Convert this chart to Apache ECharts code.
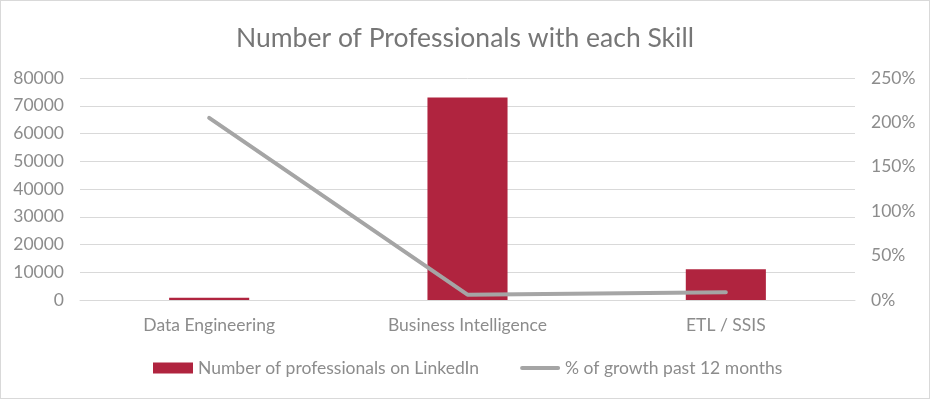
<!DOCTYPE html>
<html>
<head>
<meta charset="utf-8">
<script src="https://cdn.jsdelivr.net/npm/echarts@6/dist/echarts.min.js"></script>
<style>
  html, body { margin: 0; padding: 0; background: #fff; }
  #chart { width: 930px; height: 399px; box-sizing: border-box; border: 1px solid #d9d9d9; }
</style>
</head>
<body>
<div id="chart"></div>
<script>
  // data
  const skills = ['Data Engineering', 'Business Intelligence', 'ETL / SSIS']
  const professionals = [800, 73000, 11100]
  const growth = [2.05, 0.06, 0.086]   // fraction, shown as %

  const textColor = '#8c8c8c'
  const font = 'Lato'
  const fs = 17.5

  const chart = echarts.init(document.getElementById('chart'))
  chart.setOption({
    animation: false,
    title: {
      text: 'Number of Professionals with each Skill',
      left: 'center',
      top: 19,
      textStyle: { fontFamily: font, fontWeight: 'normal', fontSize: 26.5, color: '#767676' }
    },
    legend: {
      bottom: 16,
      left: 147,
      itemGap: 41,
      itemWidth: 40,
      itemHeight: 11,
      textStyle: { fontFamily: font, fontSize: fs, color: textColor },
      data: [
        { name: 'Number of professionals on LinkedIn', icon: 'rect' },
        {
          name: '% of growth past 12 months',
          // rounded thin bar; the tiny corner dots keep the 40x11 box
          icon: 'path://M0,0 L0.01,0 L0.01,0.01 Z M2,3.5 L38,3.5 A2,2 0 0 1 38,7.5 L2,7.5 A2,2 0 0 1 2,3.5 Z M40,11 L39.99,11 L39.99,10.99 Z',
          itemStyle: { color: '#A5A5A5' }
        }
      ]
    },
    grid: { left: 79, right: 74, top: 77, bottom: 98 },
    xAxis: {
      type: 'category',
      data: skills,
      axisTick: { show: false },
      axisLine: { lineStyle: { color: '#d9d9d9' } },
      axisLabel: { fontFamily: font, fontSize: fs, color: textColor, margin: 16 }
    },
    yAxis: [
      {
        type: 'value',
        min: 0, max: 80000, interval: 10000,
        axisLabel: { fontFamily: font, fontSize: fs, color: textColor, margin: 16, formatter: v => String(v) },
        splitLine: { lineStyle: { color: '#d9d9d9' } }
      },
      {
        type: 'value',
        min: 0, max: 2.5, interval: 0.5,
        axisLabel: {
          fontFamily: font, fontSize: fs, color: textColor, margin: 16,
          formatter: v => Math.round(v * 100) + '%'
        },
        splitLine: { show: false }
      }
    ],
    series: [
      {
        name: 'Number of professionals on LinkedIn',
        type: 'bar',
        data: professionals,
        barWidth: '31%',
        itemStyle: { color: '#B0243F' }
      },
      {
        name: '% of growth past 12 months',
        type: 'line',
        yAxisIndex: 1,
        data: growth,
        symbol: 'none',
        lineStyle: { width: 4, color: '#A5A5A5', cap: 'round' },
        itemStyle: { color: '#A5A5A5' }
      }
    ]
  })
</script>
</body>
</html>
